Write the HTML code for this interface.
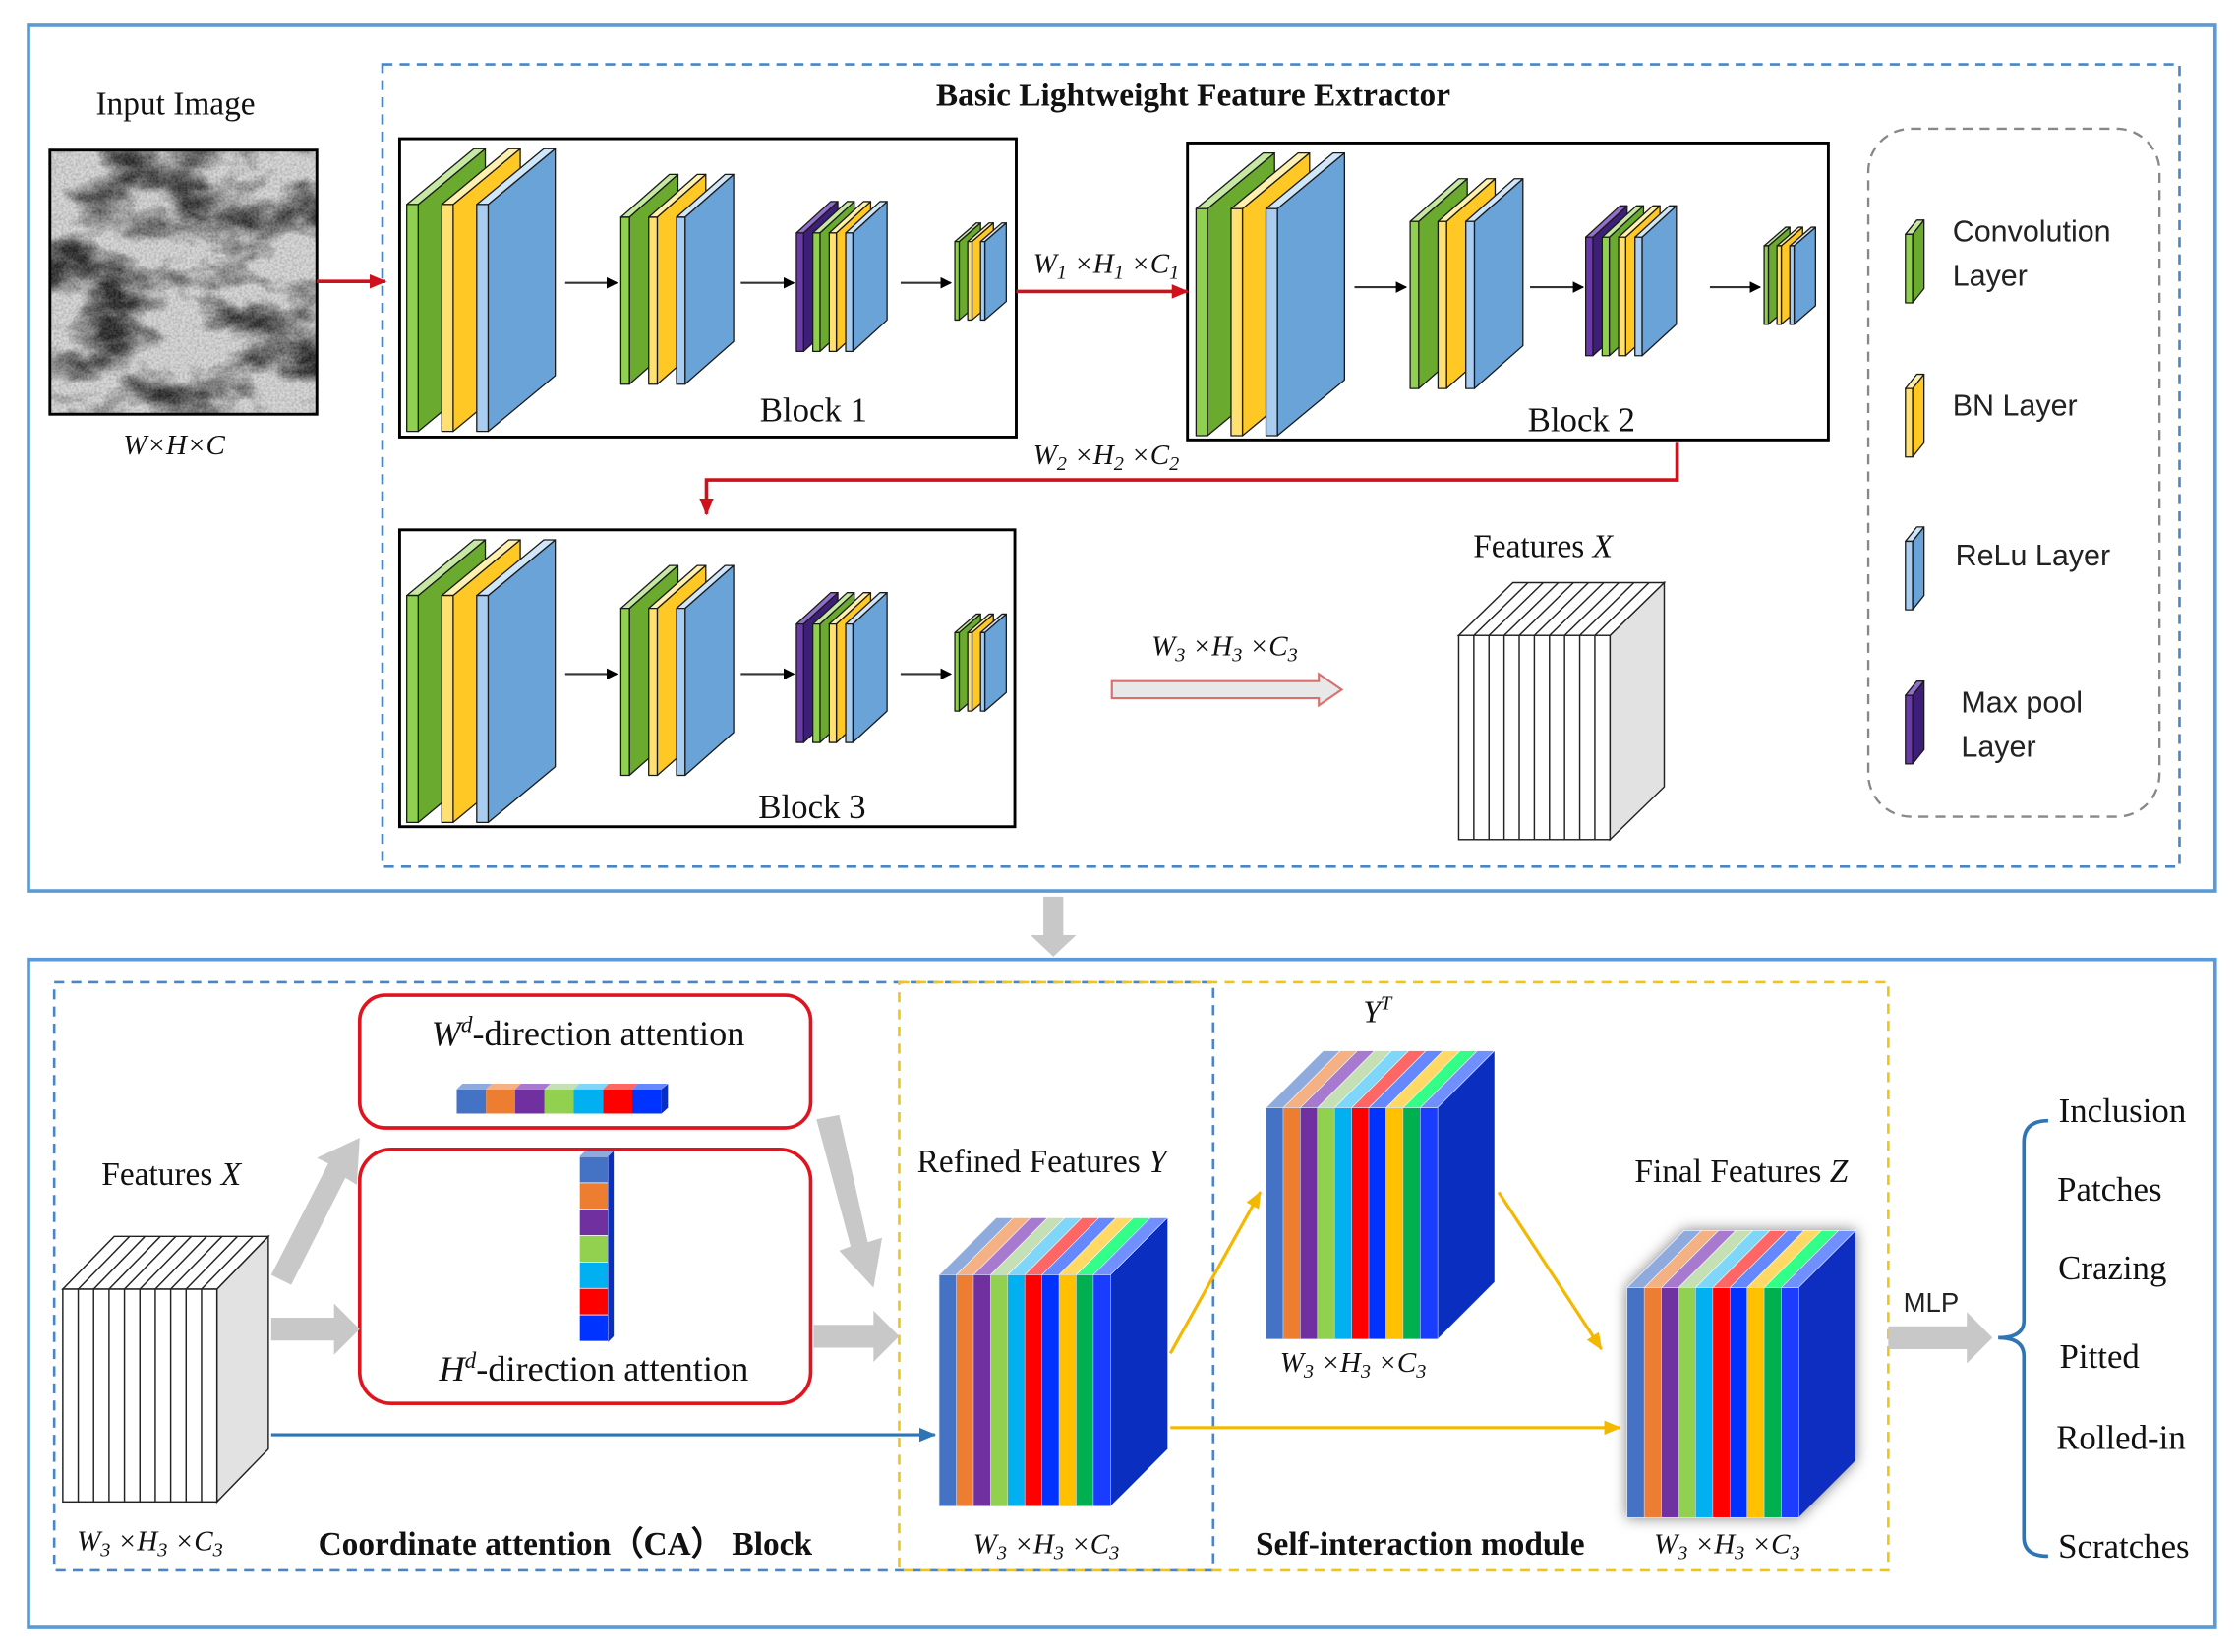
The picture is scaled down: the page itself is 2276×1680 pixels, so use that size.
<!DOCTYPE html>
<html><head><meta charset="utf-8">
<style>
html,body{margin:0;padding:0;background:#fff;}
svg{display:block;}
.s{font-family:"Liberation Serif",serif;fill:#111;}
.b{font-weight:bold;}
.i{font-style:italic;}
.sans{font-family:"Liberation Sans",sans-serif;fill:#222;}
</style></head>
<body>
<svg id="sv" width="2276" height="1680" viewBox="0 0 1568 1157" xmlns="http://www.w3.org/2000/svg">
<defs>
<filter id="noise" x="0" y="0" width="100%" height="100%">
<feTurbulence type="fractalNoise" baseFrequency="0.018 0.03" numOctaves="4" seed="7" result="t"/>
<feColorMatrix type="matrix" values="0 0 0 0 0  0 0 0 0 0  0 0 0 0 0  -3.2 -0.6 0 0 2.2" result="a"/>
<feTurbulence type="fractalNoise" baseFrequency="0.6" numOctaves="2" seed="3" result="n"/>
<feColorMatrix in="n" type="matrix" values="0 0 0 0 0  0 0 0 0 0  0 0 0 0 0  0 0 -1.2 0 0.8" result="na"/>
<feComposite in="a" in2="na" operator="arithmetic" k2="0.7" k3="0.3"/>
</filter>
<marker id="ab" markerWidth="8" markerHeight="8" refX="7" refY="4" orient="auto" markerUnits="userSpaceOnUse"><path d="M0,0 L8,4 L0,8z" fill="#000"/></marker>
<marker id="ar" markerWidth="12" markerHeight="10" refX="11" refY="5" orient="auto" markerUnits="userSpaceOnUse"><path d="M0,0 L12,5 L0,10z" fill="#d0101a"/></marker>
<marker id="ay" markerWidth="12" markerHeight="10" refX="11" refY="5" orient="auto" markerUnits="userSpaceOnUse"><path d="M0,0 L12,5 L0,10z" fill="#f5b800"/></marker>
<marker id="abl" markerWidth="12" markerHeight="10" refX="11" refY="5" orient="auto" markerUnits="userSpaceOnUse"><path d="M0,0 L12,5 L0,10z" fill="#2e75b6"/></marker>
<filter id="sh"><feDropShadow dx="0" dy="0" stdDeviation="5" flood-color="#000" flood-opacity="0.5"/></filter>
</defs>

<rect x="20" y="17" width="1532" height="607" fill="none" stroke="#5b9bd5" stroke-width="2.5"/>
<rect x="268" y="45" width="1259" height="562" fill="none" stroke="#4a86c5" stroke-width="1.8" stroke-dasharray="7,5"/>
<rect x="20" y="672" width="1532" height="468" fill="none" stroke="#5b9bd5" stroke-width="2.5"/>
<rect x="38" y="688" width="812" height="412" fill="none" stroke="#4a86c5" stroke-width="1.8" stroke-dasharray="7,5"/>
<rect x="630" y="688" width="693" height="412" fill="none" stroke="#f0c419" stroke-width="1.8" stroke-dasharray="7,5"/>

<text class="s b" x="836" y="74" font-size="23" text-anchor="middle">Basic Lightweight Feature Extractor</text>

<text class="s" x="123" y="80" font-size="23" text-anchor="middle">Input Image</text>
<rect x="35" y="105" width="187" height="185" fill="#d8d8d8"/>
<rect x="35" y="105" width="187" height="185" filter="url(#noise)"/>
<rect x="35" y="105" width="187" height="185" fill="none" stroke="#000" stroke-width="2"/>
<text class="s i" x="122" y="318" font-size="20" text-anchor="middle">W×H×C</text>
<line x1="222" y1="197" x2="270" y2="197" stroke="#d0101a" stroke-width="2.5" marker-end="url(#ar)"/>

<rect x="280" y="97" width="432" height="209" fill="#fff" stroke="#000" stroke-width="2"/>
<rect x="832" y="100" width="449" height="208" fill="#fff" stroke="#000" stroke-width="2"/>
<rect x="280" y="371" width="431" height="208" fill="#fff" stroke="#000" stroke-width="2"/>
<g id="layers"></g>
<text class="s" x="570" y="295" font-size="24" text-anchor="middle">Block 1</text>
<text class="s" x="1108" y="302" font-size="24" text-anchor="middle">Block 2</text>
<text class="s" x="569" y="573" font-size="24" text-anchor="middle">Block 3</text>

<line x1="712" y1="204" x2="832" y2="204" stroke="#d0101a" stroke-width="2.5" marker-end="url(#ar)"/>
<text class="s i" x="775" y="191" font-size="20" text-anchor="middle">W<tspan font-size="14" dy="4">1</tspan><tspan dy="-4"> ×H</tspan><tspan font-size="14" dy="4">1</tspan><tspan dy="-4"> ×C</tspan><tspan font-size="14" dy="4">1</tspan></text>
<polyline points="1175,310 1175,336 495,336 495,360" fill="none" stroke="#d0101a" stroke-width="2.5" marker-end="url(#ar)"/>
<text class="s i" x="775" y="325" font-size="20" text-anchor="middle">W<tspan font-size="14" dy="4">2</tspan><tspan dy="-4"> ×H</tspan><tspan font-size="14" dy="4">2</tspan><tspan dy="-4"> ×C</tspan><tspan font-size="14" dy="4">2</tspan></text>

<text class="s i" x="858" y="459" font-size="20" text-anchor="middle">W<tspan font-size="14" dy="4">3</tspan><tspan dy="-4"> ×H</tspan><tspan font-size="14" dy="4">3</tspan><tspan dy="-4"> ×C</tspan><tspan font-size="14" dy="4">3</tspan></text>
<path d="M779,477 L924,477 L924,472 L940,483 L924,494 L924,489 L779,489z" fill="#e8e8e8" stroke="#d97070" stroke-width="1.5"/>

<text class="s" x="1081" y="390" font-size="23" text-anchor="middle">Features <tspan class="i">X</tspan></text>
<g id="fx1"></g>

<rect x="1309" y="90" width="204" height="482" rx="30" fill="none" stroke="#888" stroke-width="1.6" stroke-dasharray="7,5"/>
<g id="leg"></g>
<text class="sans" x="1368" y="169" font-size="21">Convolution</text>
<text class="sans" x="1368" y="200" font-size="21">Layer</text>
<text class="sans" x="1368" y="291" font-size="21">BN Layer</text>
<text class="sans" x="1370" y="396" font-size="21">ReLu Layer</text>
<text class="sans" x="1374" y="499" font-size="21">Max pool</text>
<text class="sans" x="1374" y="530" font-size="21">Layer</text>

<path d="M731,628 L745,628 L745,655 L754,655 L738,670 L722,655 L731,655z" fill="#c8c8c8"/>

<text class="s" x="120" y="830" font-size="23" text-anchor="middle">Features <tspan class="i">X</tspan></text>
<g id="fx2"></g>
<text class="s i" x="105" y="1086" font-size="20" text-anchor="middle">W<tspan font-size="14" dy="4">3</tspan><tspan dy="-4"> ×H</tspan><tspan font-size="14" dy="4">3</tspan><tspan dy="-4"> ×C</tspan><tspan font-size="14" dy="4">3</tspan></text>

<rect x="252" y="697" width="316" height="93" rx="18" fill="none" stroke="#e0141e" stroke-width="2.5"/>
<rect x="252" y="805" width="316" height="178" rx="22" fill="none" stroke="#e0141e" stroke-width="2.5"/>
<text class="s" x="412" y="732" font-size="25" text-anchor="middle"><tspan class="i">W</tspan><tspan class="i" font-size="16" dy="-9">d</tspan><tspan dy="9">-direction attention</tspan></text>
<text class="s" x="416" y="967" font-size="25" text-anchor="middle"><tspan class="i">H</tspan><tspan class="i" font-size="16" dy="-9">d</tspan><tspan dy="9">-direction attention</tspan></text>
<g id="bars"></g>

<path d="M190,893 L230,815 L222,811 L252,797 L250,830 L242,825 L204,900z" fill="#c8c8c8"/>
<path d="M190,923 L234,923 L234,913 L252,931 L234,949 L234,939 L190,939z" fill="#c8c8c8"/>
<path d="M570,928 L612,928 L612,918 L630,936 L612,954 L612,944 L570,944z" fill="#c8c8c8"/>
<path d="M572,784 L588,781 L608,870 L618,867 L612,902 L588,876 L596,873z" fill="#c8c8c8"/>
<path d="M1323,929 L1378,929 L1378,919 L1396,937 L1378,955 L1378,945 L1323,945z" fill="#c8c8c8"/>

<line x1="190" y1="1005" x2="655" y2="1005" stroke="#2e75b6" stroke-width="2.2" marker-end="url(#abl)"/>

<text class="s" x="730" y="821" font-size="23" text-anchor="middle">Refined Features <tspan class="i">Y</tspan></text>
<text class="s i" x="965" y="716" font-size="22" text-anchor="middle">Y<tspan font-size="14" dy="-9">T</tspan></text>
<text class="s" x="1220" y="828" font-size="23" text-anchor="middle">Final Features <tspan class="i">Z</tspan></text>
<g id="cubes"></g>

<line x1="820" y1="948" x2="883" y2="835" stroke="#f5b800" stroke-width="2.2" marker-end="url(#ay)"/>
<line x1="1050" y1="835" x2="1122" y2="945" stroke="#f5b800" stroke-width="2.2" marker-end="url(#ay)"/>
<line x1="820" y1="1000" x2="1135" y2="1000" stroke="#f5b800" stroke-width="2.2" marker-end="url(#ay)"/>

<text class="s i" x="948" y="961" font-size="20" text-anchor="middle">W<tspan font-size="14" dy="4">3</tspan><tspan dy="-4"> ×H</tspan><tspan font-size="14" dy="4">3</tspan><tspan dy="-4"> ×C</tspan><tspan font-size="14" dy="4">3</tspan></text>
<text class="s i" x="733" y="1088" font-size="20" text-anchor="middle">W<tspan font-size="14" dy="4">3</tspan><tspan dy="-4"> ×H</tspan><tspan font-size="14" dy="4">3</tspan><tspan dy="-4"> ×C</tspan><tspan font-size="14" dy="4">3</tspan></text>
<text class="s i" x="1210" y="1088" font-size="20" text-anchor="middle">W<tspan font-size="14" dy="4">3</tspan><tspan dy="-4"> ×H</tspan><tspan font-size="14" dy="4">3</tspan><tspan dy="-4"> ×C</tspan><tspan font-size="14" dy="4">3</tspan></text>
<text class="s b" x="396" y="1089" font-size="23" text-anchor="middle">Coordinate attention（CA） Block</text>
<text class="s b" x="995" y="1089" font-size="23" text-anchor="middle">Self-interaction module</text>

<text class="sans" x="1353" y="919" font-size="19" text-anchor="middle">MLP</text>
<path d="M1435,785 Q1418,785 1418,800 L1418,925 Q1418,937 1400,937 Q1418,937 1418,950 L1418,1077 Q1418,1090 1435,1090" fill="none" stroke="#2e75b6" stroke-width="2.5"/>
<g class="s" font-size="24">
<text x="1487" y="786" text-anchor="middle">Inclusion</text>
<text x="1478" y="841" text-anchor="middle">Patches</text>
<text x="1480" y="896" text-anchor="middle">Crazing</text>
<text x="1471" y="958" text-anchor="middle">Pitted</text>
<text x="1486" y="1015" text-anchor="middle">Rolled-in</text>
<text x="1488" y="1091" text-anchor="middle">Scratches</text>
</g>
</svg>
<script>
var NS="http://www.w3.org/2000/svg";
function el(p,t,a){var e=document.createElementNS(NS,t);for(var k in a)e.setAttribute(k,a[k]);p.appendChild(e);return e;}
var C={g:["#8fd14f","#6aaa2e","#c5e8a3"],y:["#ffe070","#ffc825","#fff0b0"],b:["#a9cdf0","#6aa3d8","#d0e6fa"],p:["#6a3aa8","#3d1e78","#9070c8"]};
function layer(p,x,y,t,h,dx,dy,c){var k=C[c];var s={stroke:"#1a1a1a","stroke-width":0.9,"stroke-linejoin":"round"};
 el(p,"polygon",Object.assign({points:[x+t,y,x+t+dx,y-dy,x+t+dx,y+h-dy,x+t,y+h].join(","),fill:k[1]},s));
 el(p,"polygon",Object.assign({points:[x,y,x+dx,y-dy,x+t+dx,y-dy,x+t,y].join(","),fill:k[2]},s));
 el(p,"rect",Object.assign({x:x,y:y,width:t,height:h,fill:k[0]},s));}
var L=document.getElementById("layers");
function block(ox,oy,o4){
 var g1=["g","y","b"];for(var i=0;i<3;i++)layer(L,285+ox+i*24.5,143+oy,8,159,47,39,g1[i]);
 for(var i=0;i<3;i++)layer(L,435+ox+i*19.5,152+oy,6,117,34,30,g1[i]);
 var g3=["p","g","y","b"];for(var i=0;i<4;i++)layer(L,558+ox+i*11.5,163+oy,5,83,24,22,g3[i]);
 for(var i=0;i<3;i++)layer(L,669+ox+o4+i*9,169+oy,3,55,15,13,g1[i]);
 var xs=[[396,432],[519,556],[631,666]];
 xs.forEach(function(a){el(L,"line",{x1:a[0]+ox+(a===xs[2]?o4:0),y1:198+oy,x2:a[1]+ox+(a===xs[2]?o4:0),y2:198+oy,stroke:"#333","stroke-width":1.5,"marker-end":"url(#ab)"});});
}
block(0,0,0);block(553,3,14);block(0,274,0);
var LG=document.getElementById("leg");
[["g",152],["y",260],["b",367],["p",475]].forEach(function(a){layer(LG,1335,a[1]+12,5,48,8,10,a[0]);});
function hollow(id,x,y,w,h,dx,dy,n){var p=document.getElementById(id);var s={stroke:"#222","stroke-width":1};
 el(p,"polygon",Object.assign({points:[x+w,y,x+w+dx,y-dy,x+w+dx,y+h-dy,x+w,y+h].join(","),fill:"#e2e2e2"},s));
 el(p,"polygon",Object.assign({points:[x,y,x+dx,y-dy,x+w+dx,y-dy,x+w,y].join(","),fill:"#fff"},s));
 el(p,"rect",Object.assign({x:x,y:y,width:w,height:h,fill:"#fff"},s));
 for(var i=1;i<n;i++){var xx=x+w*i/n;el(p,"line",{x1:xx,y1:y,x2:xx,y2:y+h,stroke:"#222","stroke-width":1});el(p,"line",{x1:xx,y1:y,x2:xx+dx,y2:y-dy,stroke:"#222","stroke-width":1});}}
hollow("fx1",1022,445,106,143,38,37,10);
hollow("fx2",44,903,108,149,36,37,10);
var cols=["#4472c4","#ed7d31","#7030a0","#92d050","#00b0f0","#ff0000","#0033ff","#ffc000","#00b050","#1a3cff"];
var tops=["#8faadc","#f4b183","#a77ad0","#c5e0b4","#7fd6f8","#ff6666","#6688ff","#ffd966","#33ff88","#7090ff"];
var CB=document.getElementById("cubes");
function cube(x,y,w,h,dx,dy,sh){var g=el(CB,"g",sh?{filter:"url(#sh)"}:{});var n=cols.length,sw=w/n;
 el(g,"polygon",{points:[x+w,y,x+w+dx,y-dy,x+w+dx,y+h-dy,x+w,y+h].join(","),fill:"#0a2fc0"});
 for(var i=0;i<n;i++){var xx=x+i*sw;el(g,"polygon",{points:[xx,y,xx+dx,y-dy,xx+sw+dx,y-dy,xx+sw,y].join(","),fill:tops[i],stroke:"#fff","stroke-width":0.4});
  el(g,"rect",{x:xx,y:y,width:sw+0.3,height:h,fill:cols[i],stroke:"#cfe0ff","stroke-width":0.4});}}
cube(658,893,120,162,40,40,false);
cube(887,776,120,162,40,40,false);
cube(1140,902,120,161,40,40,true);
var B=document.getElementById("bars");
var bc=["#4472c4","#ed7d31","#7030a0","#92d050","#00b0f0","#ff0000","#0033ff"];
for(var i=0;i<7;i++){var x=320+i*20.5;el(B,"polygon",{points:[x,763,x+4,759,x+24.5,759,x+20.5,763].join(","),fill:tops[i]});el(B,"rect",{x:x,y:763,width:20.5,height:17,fill:bc[i]});}
el(B,"polygon",{points:"463.5,763 468,759 468,776 463.5,780",fill:"#0a2fc0"});
for(var i=0;i<7;i++){var y=810+i*18.5;el(B,"rect",{x:406,y:y,width:20,height:18.5,fill:bc[i],stroke:"#fff","stroke-width":0.5});}
el(B,"polygon",{points:"426,810 430,806 430,936 426,940",fill:"#0a2fc0"});
el(B,"polygon",{points:"406,810 410,806 430,806 426,810",fill:"#8faadc"});
</script>
</body></html>
